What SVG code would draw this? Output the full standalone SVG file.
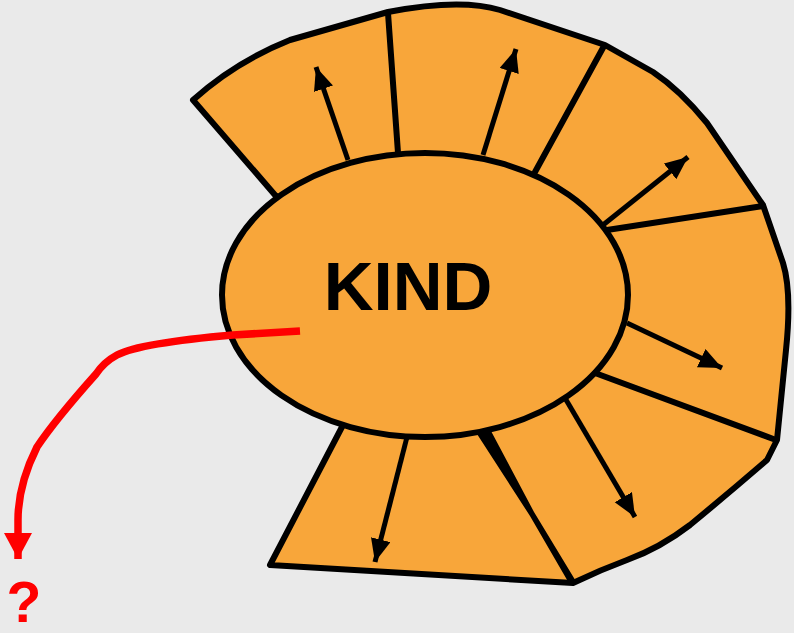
<svg xmlns="http://www.w3.org/2000/svg" width="794" height="633" viewBox="0 0 794 633">
<defs>
<style>
.shape{fill:#F8A63A;stroke:#000;stroke-width:6;stroke-linejoin:round;stroke-linecap:round}
.div{fill:none;stroke:#000;stroke-width:6;stroke-linecap:round}
.arr{fill:none;stroke:#000;stroke-width:5;marker-end:url(#ah)}
.red{fill:none;stroke:#FF0000;stroke-width:7.5;marker-end:url(#rh)}
</style>
<marker id="ah" markerUnits="userSpaceOnUse" markerWidth="26" markerHeight="22" refX="23" refY="10" orient="auto" viewBox="0 0 26 22">
<path d="M0,0 L23,10 L0,20 Z" fill="#000"/>
</marker>
<marker id="rh" markerUnits="userSpaceOnUse" markerWidth="30" markerHeight="30" refX="26" refY="14" orient="auto" viewBox="0 0 30 30">
<path d="M0,0 L26,14 L0,28 Z" fill="#FF0000"/>
</marker>
</defs>
<rect width="794" height="633" fill="#EAEAEA"/>
<g id="band">
<path class="shape" d="M343,425 L270,565 L573,583 Q600,570 627,560 Q660,548 690,525 Q730,492 767,460 L777,440 L786,350 Q792,292 783,263 L763,205 L707,123 Q680,90 653,72 L605,45 L500,10 Q460,-2 388,12 L290,40 Q235,62 193,100 L275,195 L425,295 Z"/>
</g>
<g id="kind">
<ellipse class="shape" cx="425" cy="295" rx="203" ry="142"/>
<text x="408" y="310" font-family="Liberation Sans, Arial, sans-serif" font-weight="bold" font-size="69" text-anchor="middle" fill="#000">KIND</text>
</g>
<g id="dividers">
<path class="div" d="M398,153 L388,13"/>
<path class="div" d="M535,172 L604,46" stroke-width="7"/>
<path class="div" d="M607,230 L763,206"/>
<path class="div" d="M595,373 L776,440"/>
<polygon points="477,434 491,431 534,512 577,583 570,585 530,516" fill="#000"/>
</g>
<g id="connectors">
<path class="arr" d="M348,160 L316,67"/>
<path class="arr" d="M483,155 L516,49"/>
<path class="arr" d="M603,225 L688,157"/>
<path class="arr" d="M627,323 L722,368"/>
<path class="arr" d="M565,398 L635,517"/>
<path class="arr" d="M407,437 L375,562"/>
<path class="red" d="M300,331 L233,335 Q140,343 117,355 Q104,362 96,374 Q55,420 37,447 Q18,485 18,520 L18,559"/>
</g>
<text x="24" y="622" font-family="Liberation Sans, Arial, sans-serif" font-weight="bold" font-size="57" text-anchor="middle" fill="#FF0000">?</text>
</svg>
